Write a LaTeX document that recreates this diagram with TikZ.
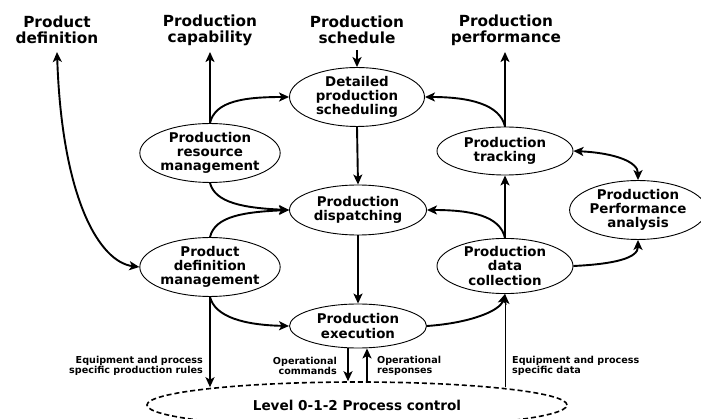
\documentclass[tikz,border=0pt]{standalone}
\usepackage{fontspec}
\setmainfont{DejaVu Sans}
\usetikzlibrary{arrows.meta,calc,shapes.geometric}
\tikzset{
  proc/.style={ellipse,draw,line width=0.9pt,fill=white,inner sep=0pt,align=center,
    font=\fontsize{13.4}{14.3}\selectfont\bfseries},
  toplabel/.style={align=center,inner sep=2pt,font=\fontsize{15.3}{16}\selectfont\bfseries},
  small/.style={inner sep=0pt,font=\fontsize{9.6}{10.5}\selectfont\bfseries},
  conn/.style={line width=1.9pt},
  tipa/.tip={Stealth[length=10pt,width=9pt,inset=2.5pt]},
  arr/.style={conn,-tipa},
  darr/.style={conn,tipa-tipa},
  thinarr/.style={line width=1pt,-{Stealth[length=10pt,width=9pt,inset=2.5pt]}}
}
\begin{document}
\begin{tikzpicture}[x=1pt,y=-1pt]
\useasboundingbox[fill=white] (0,0) rectangle (701,419);
% top labels
\node[toplabel] (pd) at (57,30) {Product\\definition};
\node[toplabel] (pc) at (210,30) {Production\\capability};
\node[toplabel] (ps) at (357,30) {Production\\schedule};
\node[toplabel] (pp) at (506,30) {Production\\performance};
\coordinate (pdtip) at (57,52);
\coordinate (pctip) at (210,52);
\coordinate (pstop) at (357,50);
\coordinate (pptip) at (505,52);
% ellipses
\node[proc,minimum width=135pt,minimum height=51pt] (ds) at (357,97) {Detailed\\production\\scheduling};
\node[proc,minimum width=135pt,minimum height=53pt] (prm) at (210,153) {Production\\resource\\management};
\node[proc,minimum width=136pt,minimum height=48pt] (trk) at (505,151) {Production\\tracking};
\node[proc,minimum width=137pt,minimum height=50pt] (disp) at (358,210) {Production\\dispatching};
\node[proc,minimum width=136pt,minimum height=50pt] (pdm) at (210,267) {Product\\definition\\management};
\node[proc,minimum width=136pt,minimum height=55pt] (dc) at (505,266) {Production\\data\\collection};
\node[proc,minimum width=137pt,minimum height=44pt] (exe) at (358,326) {Production\\execution};
\node[proc,minimum width=126pt,minimum height=54pt] (ppa) at (638,210) {Production\\Performance\\analysis};
\node[ellipse,draw,line width=1.6pt,dash pattern=on 5pt off 3pt,minimum width=420pt,minimum height=46pt,inner sep=0pt,
  font=\fontsize{13.6}{14}\selectfont\bfseries] (level) at (357,405) {Level 0-1-2 Process control};
% connectors
\draw[darr] (pdtip) .. controls (62,200) and (100,262) .. (pdm.west);
\draw[arr] (prm.north) -- (pctip);
\draw[arr] (prm.north) .. controls +(5,-22) and +(-45,0) .. (ds.west);
\draw[arr] (prm.south) .. controls +(5,20) and +(-45,-2) .. (disp.west);
\draw[arr] (pdm.north) .. controls +(5,-21) and +(-45,2) .. (disp.west);
\draw[arr] (pdm.south) .. controls +(5,20) and +(-45,-1) .. (exe.west);
\draw[arr] (pstop) -- (ds.north);
\draw[arr] (ds.south) -- (disp.north);
\draw[arr] (disp.south) -- (exe.north);
\draw[arr] (trk.north) -- (pptip);
\draw[arr] (trk.north) .. controls +(-5,-22) and +(45,0) .. (ds.east);
\draw[arr] (dc.north) .. controls +(-5,-22) and +(45,0) .. (disp.east);
\draw[arr] (dc.north) -- (trk.south);
\draw[arr] (exe.east) .. controls +(43,-3) and +(-5,17) .. (dc.south);
\draw[darr] (trk.east) .. controls +(42,2) and +(0,-18) .. (ppa.north);
\draw[arr] (dc.east) .. controls +(42,-2) and +(0,18) .. (ppa.south);
\draw[arr] (pdm.south) -- ($(pdm.south |- level.north)+(0,6)$);
\draw[thinarr] ($(dc.south |- level.north)+(0,6)$) -- (dc.south);
\draw[arr] ($(exe.south)+(-10,0)$) -- ($(exe.south |- level.north)+(-10,0)$);
\draw[arr] ($(exe.south |- level.north)+(9,0)$) -- ($(exe.south)+(9,0)$);
% small labels
\node[small,align=right,anchor=east] (l1) at (203,366) {Equipment and process\\specific production rules};
\node[small,align=right,anchor=east] (l2) at (337,366) {Operational\\commands};
\node[small,align=left,anchor=west] (l3) at (377,366) {Operational\\responses};
\node[small,align=left,anchor=west] (l4) at (512,366) {Equipment and process\\specific data};
\end{tikzpicture}
\end{document}
